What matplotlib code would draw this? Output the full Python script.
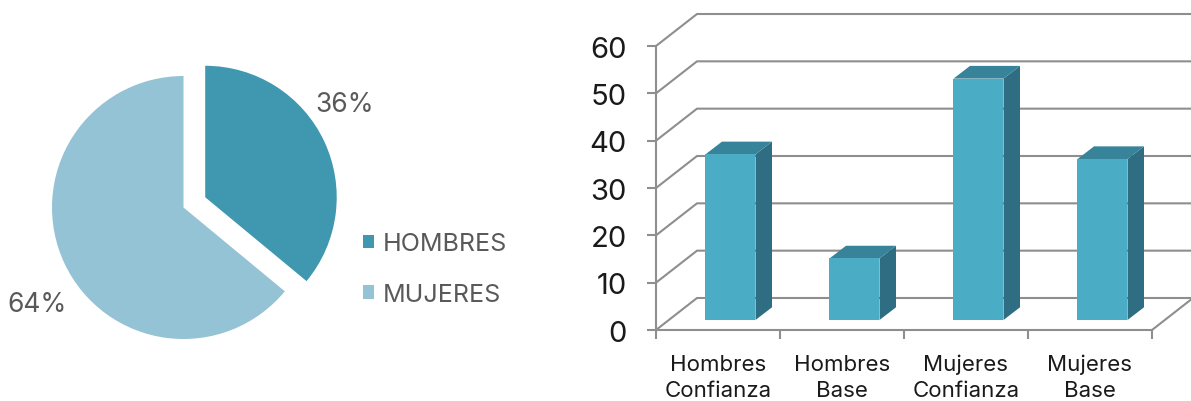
import matplotlib
matplotlib.use('Agg')
import matplotlib.pyplot as plt
from matplotlib.patches import Polygon

plt.rcParams['font.family'] = ['Inter', 'DejaVu Sans']

# data
pie_labels = ['HOMBRES', 'MUJERES']
pie_values = [36, 64]
pie_colors = ['#4097b0', '#93c3d5']

categories = ['Hombres\nConfianza', 'Hombres\nBase', 'Mujeres\nConfianza', 'Mujeres\nBase']
bar_values = [35, 13, 51, 34]
y_ticks = [0, 10, 20, 30, 40, 50, 60]

W, H = 1191, 402
GRAY = '#8e8e8e'

fig = plt.figure(figsize=(W / 100, H / 100), dpi=100)

# pie, axes in pixels
ax1 = fig.add_axes([0, 0, 1, 1])
wedges, _ = ax1.pie(pie_values, colors=pie_colors, startangle=90, counterclock=False,
                    explode=[24, 0], center=(183.5, H - 208.5), radius=131.5, frame=False)
ax1.set_xlim(0, W)
ax1.set_ylim(0, H)
ax1.set_axis_off()
ax1.text(345, H - 105, f'{pie_values[0]}%', fontsize=19, color='#595959', ha='center', va='center')
ax1.text(37, H - 305, f'{pie_values[1]}%', fontsize=19, color='#595959', ha='center', va='center')
ax1.legend(wedges, pie_labels, loc='upper left', bbox_to_anchor=(355 / W, 1 - 226 / H),
           frameon=False, fontsize=18, labelcolor='#595959', handlelength=0.45, handleheight=0.45,
           handletextpad=0.35, labelspacing=1.1, borderpad=0.3, borderaxespad=0)

# bars, one x unit = one category, fake 3d by shifting in data units
ax2 = fig.add_axes([0, 0, 1, 1])
ax2.patch.set_alpha(0)
ax2.set_axis_off()
px_x = 124.0
px_y = 284 / 60
ax2.set_xlim(-656 / px_x, (W - 656) / px_x)
ax2.set_ylim((331 - H) / px_y, 331 / px_y)

n = len(categories)
dx = 41 / px_x
dy = 32 / px_y

line = dict(color=GRAY, lw=1.5, solid_capstyle='butt', zorder=1)
for v in y_ticks:
    ax2.plot([0, dx, n + dx], [v, v + dy, v + dy], **line)
    ax2.plot([-9 / px_x, 0], [v, v], **line)
    ax2.text(-29 / px_x, v - 0.7, str(v), fontsize=21, color='#1a1a1a', ha='right', va='center')
ax2.plot([0, 0], [0, 60], **line)
ax2.plot([0, n, n + dx], [0, 0, dy], **line)
for i in range(n + 1):
    ax2.plot([i, i], [0, -9 / px_y], **line)

# bars sit in the middle of the floor depth
off_x = 12.5 / px_x
off_y = 10 / px_y
bw = 50 / px_x
bd_x = 16.5 / px_x
bd_y = 12.7 / px_y
for i, v in enumerate(bar_values):
    x0 = i + 0.5 - bw / 2 + off_x
    x1 = x0 + bw
    y0 = off_y
    y1 = v + off_y
    ax2.add_patch(Polygon([(x1, y0), (x1 + bd_x, y0 + bd_y), (x1 + bd_x, y1 + bd_y), (x1, y1)],
                          fc='#2f6d82', ec='none', zorder=3))
    ax2.add_patch(Polygon([(x0, y1), (x1, y1), (x1 + bd_x, y1 + bd_y), (x0 + bd_x, y1 + bd_y)],
                          fc='#37839a', ec='none', zorder=3))
    ax2.bar(x0 + bw / 2, v, width=bw, bottom=y0, color='#4bacc6', zorder=4)
    ax2.text(i + 0.5, -(378 - 331) / px_y, categories[i], fontsize=16, color='#1a1a1a',
             ha='center', va='center', linespacing=1.4)

fig.savefig('out.png', dpi=100)
